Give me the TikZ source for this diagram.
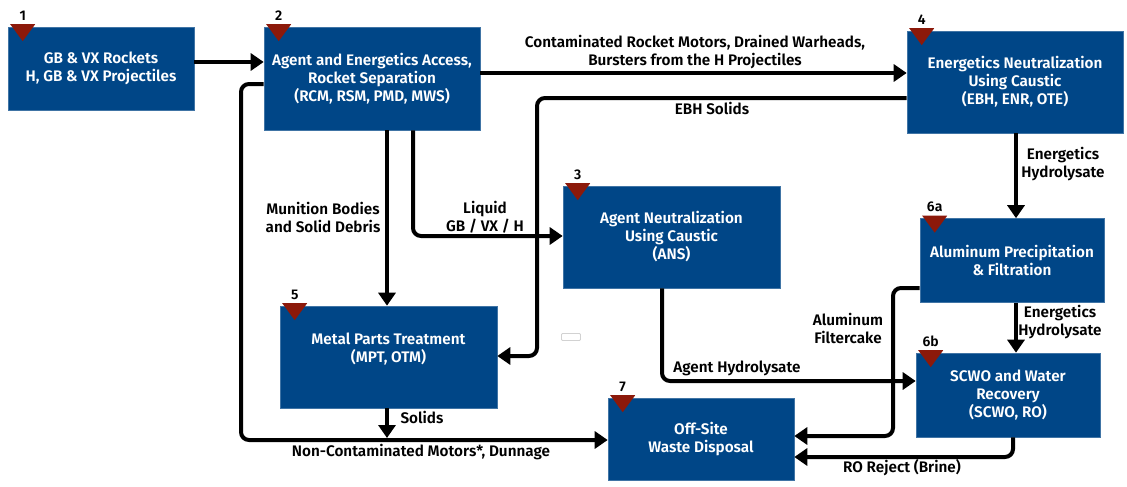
\documentclass[tikz,border=0pt]{standalone}
\usepackage{fontspec}
\setmainfont{Fira Sans}[BoldFont={Fira Sans SemiBold}]
\usetikzlibrary{arrows.meta}
\definecolor{boxblue}{RGB}{0,70,135}
\definecolor{trired}{RGB}{140,25,10}
\newcommand{\stepmark}[3]{%
  \fill[trired] ([xshift=2.5pt,yshift=2.5pt]#1.north west) -- ++(25pt,0pt) -- ++(-12.5pt,-17pt) -- cycle;
  \node[num] (#3) at ([xshift=15pt,yshift=11pt]#1.north west) {#2};}
\begin{document}
\begin{tikzpicture}[x=1pt,y=-1pt,
  box/.style={fill=boxblue, draw=boxblue!75!white, line width=0.6pt, inner sep=0pt,
    text=white, font=\bfseries\fontsize{15.3}{18}\selectfont, align=center},
  lbl/.style={font=\bfseries\fontsize{15.3}{18}\selectfont, align=center, inner sep=0pt, text=black},
  num/.style={font=\bfseries\fontsize{14}{15}\selectfont, inner sep=0pt},
  flow/.style={line width=4pt, rounded corners=8pt, -{Triangle[length=13pt,width=17pt]}},
  plain/.style={line width=4pt, rounded corners=8pt}]
\useasboundingbox[fill=white] (0,0) rectangle (1127,487);

% boxes
\node[box, minimum width=186pt, minimum height=83pt] (b1) at (101,68.5)
  {GB \& VX Rockets\\H, GB \& VX Projectiles};
\node[box, minimum width=216pt, minimum height=103pt] (b2) at (372,78.5)
  {Agent and Energetics Access,\\Rocket Separation\\(RCM, RSM, PMD, MWS)};
\node[box, minimum width=216pt, minimum height=102pt] (b4) at (1015,82)
  {Energetics Neutralization\\Using Caustic\\(EBH, ENR, OTE)};
\node[box, minimum width=217pt, minimum height=102pt] (b3) at (671.5,237)
  {Agent Neutralization\\Using Caustic\\(ANS)};
\node[box, minimum width=217pt, minimum height=102pt] (b5) at (388.5,357)
  {Metal Parts Treatment\\(MPT, OTM)\\\mbox{}};
\node[box, minimum width=186pt, minimum height=82pt] (b7) at (701,439)
  {Off-Site\\Waste Disposal};
\node[box, minimum width=184pt, minimum height=84pt] (b6a) at (1012,260.5)
  {Aluminum Precipitation\\\& Filtration};
\node[box, minimum width=184pt, minimum height=84pt] (b6b) at (1008,395)
  {SCWO and Water\\Recovery\\(SCWO, RO)};

\node[draw=gray!35, rounded corners=1pt, line width=0.8pt, minimum width=19pt, minimum height=7pt, inner sep=0pt] (mk) at (571,337) {};

% step markers
\stepmark{b1}{1}{n1}
\stepmark{b2}{2}{n2}
\stepmark{b3}{3}{n3}
\stepmark{b4}{4}{n4}
\stepmark{b5}{5}{n5}
\stepmark{b6a}{6a}{n6a}
\stepmark{b6b}{6b}{n6b}
\stepmark{b7}{7}{n7}

% helper coordinates
\coordinate (hA) at (0,62);
\coordinate (hB) at (0,73);
\coordinate (hC) at (0,98);
\coordinate (vC) at (537,0);
\coordinate (hC2) at (0,356);
\coordinate (hD) at (0,84);
\coordinate (vD) at (241,0);
\coordinate (hD2) at (0,440);
\coordinate (vE) at (387,0);
\coordinate (hG) at (0,438);
\coordinate (vF) at (413,0);
\coordinate (hF) at (0,236);
\coordinate (vH) at (662,0);
\coordinate (hH) at (0,381);
\coordinate (vI) at (1016,0);
\coordinate (hK) at (0,288);
\coordinate (vK) at (893,0);
\coordinate (hK2) at (0,436);
\coordinate (vL) at (1013,0);
\coordinate (hL) at (0,457);

% connectors
\draw[flow] (b1.east |- hA) -- (b2.west |- hA);
\draw[flow] (b2.east |- hB) -- (b4.west |- hB);
\draw[flow] (b4.west |- hC) -- (vC |- hC) -- (vC |- hC2) -- (b5.east |- hC2);
\draw[flow] (b2.west |- hD) -- (vD |- hD) -- (vD |- hD2) -- (b7.west |- hD2);
\draw[flow] (b2.south -| vE) -- (b5.north -| vE);
\draw[flow] (b2.south -| vF) -- (vF |- hF) -- (b3.west |- hF);
\draw[flow] (b5.south -| vE) -- (vE |- hG);
\draw[flow] (b3.south -| vH) -- (vH |- hH) -- (b6b.west |- hH);
\draw[flow] (b4.south -| vI) -- (b6a.north -| vI);
\draw[flow] (b6a.south -| vI) -- (b6b.north -| vI);
\draw[flow] (b6a.west |- hK) -- (vK |- hK) -- (vK |- hK2) -- (b7.east |- hK2);
\draw[flow] (b6b.south -| vL) -- (vL |- hL) -- (b7.east |- hL);

% labels
\node[lbl] (lB) at (695,52.5) {Contaminated Rocket Motors, Drained Warheads,\\Bursters from the H Projectiles};
\node[lbl] (lC) at (712,108) {EBH Solids};
\node[lbl] (lD) at (421,452) {Non-Contaminated Motors*, Dunnage};
\node[lbl] (lE) at (323,217) {Munition Bodies\\and Solid Debris};
\node[lbl] (lF) at (485,217) {Liquid\\GB / VX / H};
\node[lbl] (lG) at (422,417) {Solids};
\node[lbl] (lH) at (737,368) {Agent Hydrolysate};
\node[lbl] (lI) at (1063,164) {Energetics\\Hydrolysate};
\node[lbl] (lJ) at (1060,322) {Energetics\\Hydrolysate};
\node[lbl] (lK) at (848,328) {Aluminum\\Filtercake};
\node[lbl] (lL) at (902,468) {RO Reject (Brine)};
\end{tikzpicture}
\end{document}
